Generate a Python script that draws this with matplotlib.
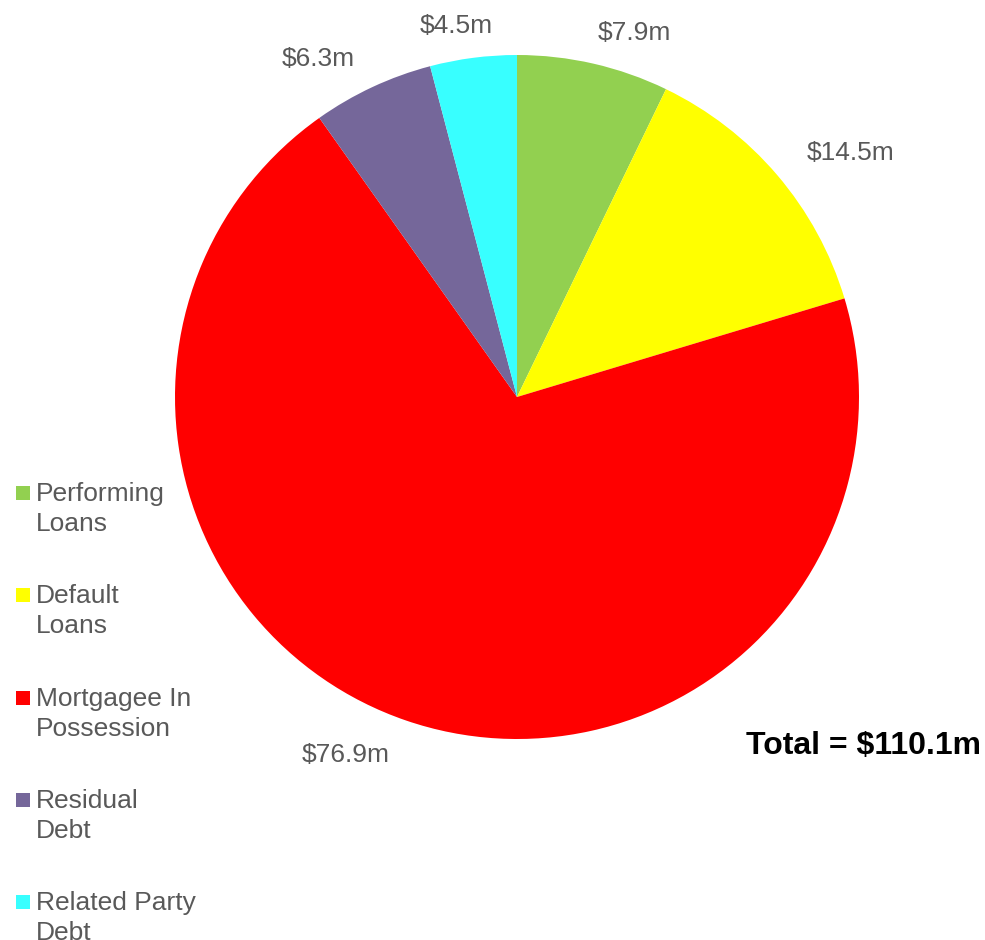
import matplotlib.pyplot as plt
from matplotlib.patches import Rectangle

plt.rcParams['font.family'] = ['Liberation Sans', 'DejaVu Sans']

categories = ['Performing\nLoans', 'Default\nLoans', 'Mortgagee In\nPossession',
              'Residual\nDebt', 'Related Party\nDebt']
values = [7.9, 14.5, 76.9, 6.3, 4.5]   # $m
colors = ['#92D050', '#FFFF00', '#FF0000', '#75679A', '#38FFFF']

W, H = 985, 940
grey = '#595959'

fig = plt.figure(figsize=(W / 100, H / 100), dpi=100)
ax = fig.add_axes([0, 0, 1, 1])

cx, cy, r = 517, H - 397, 342
wedges, _ = ax.pie(values, colors=colors, startangle=90, counterclock=False,
                   center=(cx, cy), radius=r, frame=True,
                   wedgeprops=dict(linewidth=0))
ax.set_xlim(0, W)
ax.set_ylim(0, H)
ax.set_aspect('equal')
ax.axis('off')

# value labels (pixel positions, from top-left)
label_pos = [(634, 33), (851, 153), (346, 755), (318, 59), (456, 26)]
for v, (px, py) in zip(values, label_pos):
    ax.text(px, H - py, f'${v:.1f}m', ha='center', va='center',
            fontsize=19, color=grey)

total = sum(values)
ax.text(863, H - 746, f'Total = ${total:.1f}m', ha='center', va='center',
        fontsize=23, fontweight='bold', color='black')

# legend down the left side
for i, (name, c) in enumerate(zip(categories, colors)):
    top = 486 + i * 102.3
    ax.add_patch(Rectangle((16, H - top - 14), 14, 14, color=c, linewidth=0))
    ax.text(36, H - top + 4, name, ha='left', va='top', fontsize=19,
            color=grey, linespacing=1.32)

fig.savefig('out.png', dpi=100)
